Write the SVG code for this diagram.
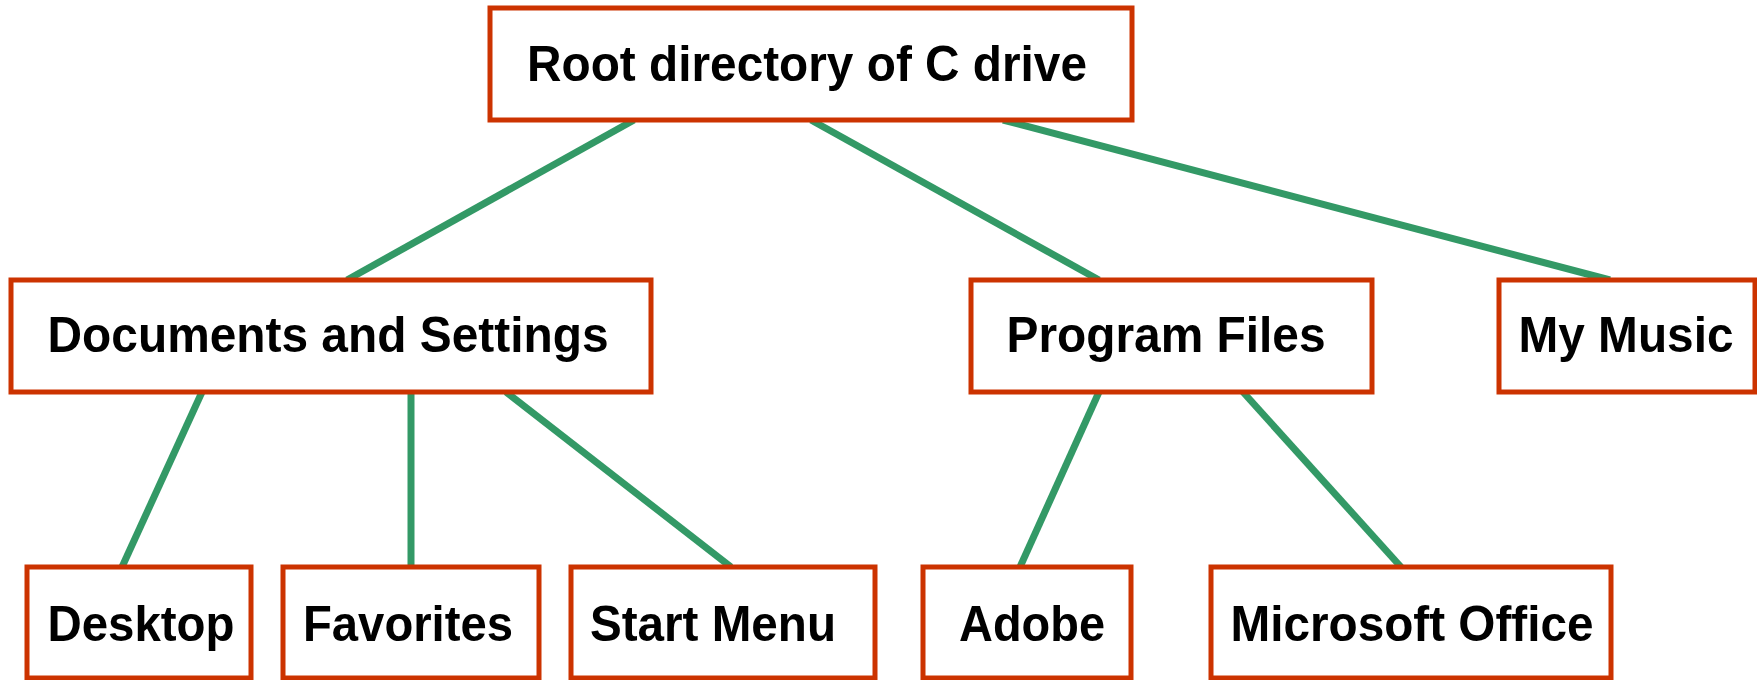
<svg xmlns="http://www.w3.org/2000/svg" width="1757" height="680" viewBox="0 0 1757 680">
<style>
.box{fill:#fff;stroke:#CC3300;stroke-width:5}
.lbl{font-family:"Liberation Sans",Arial,sans-serif;font-weight:bold;font-size:50px;fill:#000;text-anchor:middle}
.edge{stroke:#339966;stroke-width:7;fill:none}
</style>
<rect width="1757" height="680" fill="#fff"/>
<g id="connectors">
<line class="edge" x1="634" y1="120" x2="347" y2="280"/>
<line class="edge" x1="811" y1="120" x2="1099" y2="280"/>
<line class="edge" x1="1003" y1="120" x2="1610" y2="280"/>
<line class="edge" x1="202" y1="392" x2="122" y2="567"/>
<line class="edge" x1="411" y1="392" x2="411" y2="567"/>
<line class="edge" x1="506" y1="392" x2="731" y2="567"/>
<line class="edge" x1="1099" y1="392" x2="1020" y2="567"/>
<line class="edge" x1="1243" y1="392" x2="1401" y2="567"/>
</g>
<g id="root"><rect class="box" x="490" y="8" width="642" height="112"/><text class="lbl" x="807" y="81" textLength="560" lengthAdjust="spacingAndGlyphs">Root directory of C drive</text></g>
<g id="docs"><rect class="box" x="11" y="280" width="640" height="112"/><text class="lbl" x="328" y="352" textLength="561" lengthAdjust="spacingAndGlyphs">Documents and Settings</text></g>
<g id="progfiles"><rect class="box" x="971" y="280" width="401" height="112"/><text class="lbl" x="1166" y="352" textLength="319" lengthAdjust="spacingAndGlyphs">Program Files</text></g>
<g id="mymusic"><rect class="box" x="1499" y="280" width="256" height="112"/><text class="lbl" x="1626" y="352" textLength="215" lengthAdjust="spacingAndGlyphs">My Music</text></g>
<g id="desktop"><rect class="box" x="27" y="567" width="224" height="111"/><text class="lbl" x="141" y="641" textLength="187" lengthAdjust="spacingAndGlyphs">Desktop</text></g>
<g id="favorites"><rect class="box" x="283" y="567" width="256" height="111"/><text class="lbl" x="408" y="641" textLength="210" lengthAdjust="spacingAndGlyphs">Favorites</text></g>
<g id="startmenu"><rect class="box" x="571" y="567" width="304" height="111"/><text class="lbl" x="713" y="641" textLength="246" lengthAdjust="spacingAndGlyphs">Start Menu</text></g>
<g id="adobe"><rect class="box" x="923" y="567" width="208" height="111"/><text class="lbl" x="1032" y="641" textLength="146" lengthAdjust="spacingAndGlyphs">Adobe</text></g>
<g id="msoffice"><rect class="box" x="1211" y="567" width="400" height="111"/><text class="lbl" x="1412" y="641" textLength="363" lengthAdjust="spacingAndGlyphs">Microsoft Office</text></g>
</svg>
